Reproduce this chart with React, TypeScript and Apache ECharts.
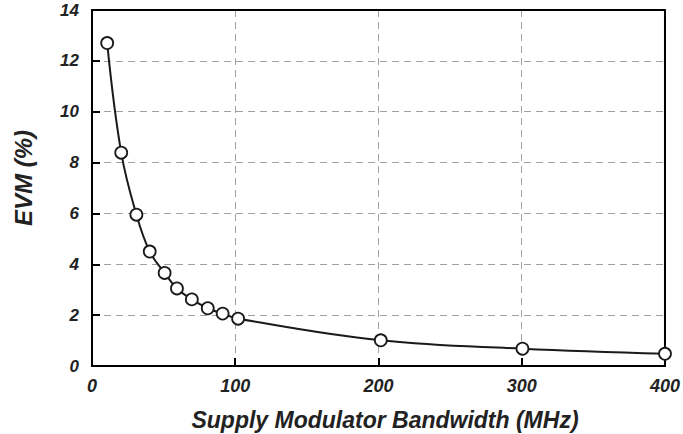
import React, { useEffect, useRef } from "react";
import * as echarts from "echarts";

const bandwidthMHz = [10.6, 20.4, 31, 40.3, 50.7, 59.3, 69.7, 80.8, 91.2, 102, 201.6, 300.5, 400];
const evmPercent = [12.7, 8.39, 5.95, 4.5, 3.66, 3.05, 2.62, 2.27, 2.06, 1.86, 1.01, 0.68, 0.48];
const xTitle = "Supply Modulator Bandwidth (MHz)";
const yTitle = "EVM (%)";

const FONT = "Liberation Sans, Arial, sans-serif";

export default function App() {
  const ref = useRef<HTMLDivElement>(null);
  useEffect(() => {
    if (!ref.current) return;
    const chart = echarts.init(ref.current, undefined, { renderer: "svg" });
    const data = bandwidthMHz.map((x, i) => [x, evmPercent[i]]);
    const labelStyle = {
      fontFamily: FONT,
      fontWeight: "bold" as const,
      fontStyle: "italic" as const,
      color: "#222",
      fontSize: 18,
    };
    const split = {
      show: true,
      showMinLine: false,
      showMaxLine: false,
      lineStyle: { color: "#a0a0a0", width: 1, type: [7, 5] },
    };
    chart.setOption({
      animation: false,
      backgroundColor: "#fff",
      grid: {
        left: 92,
        right: 15,
        top: 10,
        bottom: 68,
        show: true,
        borderColor: "#000",
        borderWidth: 2,
        backgroundColor: "transparent",
        z: 3,
      },
      graphic: [
        {
          type: "text",
          x: 385,
          y: 420,
          style: {
            text: xTitle,
            fill: "#222",
            font: `italic bold 23px ${FONT}`,
            align: "center",
            verticalAlign: "middle",
          },
        },
        {
          type: "text",
          x: 23,
          y: 178,
          rotation: Math.PI / 2,
          style: {
            text: yTitle,
            fill: "#222",
            font: `italic bold 24px ${FONT}`,
            align: "center",
            verticalAlign: "middle",
          },
        },
      ],
      xAxis: {
        type: "value",
        min: 0,
        max: 400,
        interval: 100,
        axisLine: { show: true, lineStyle: { color: "#000", width: 2 } },
        axisTick: { show: true, inside: true, length: 8, lineStyle: { color: "#000", width: 2 } },
        axisLabel: { ...labelStyle, margin: 11 },
        splitLine: split,
      },
      yAxis: {
        type: "value",
        min: 0,
        max: 14,
        interval: 2,
        axisLine: { show: true, lineStyle: { color: "#000", width: 2 } },
        axisTick: { show: true, inside: true, length: 8, lineStyle: { color: "#000", width: 2 } },
        axisLabel: { ...labelStyle, fontSize: 17, margin: 13 },
        splitLine: split,
      },
      series: [
        {
          type: "line",
          data,
          smooth: 0.4,
          symbol: "circle",
          symbolSize: 12,
          showAllSymbol: true,
          clip: false,
          lineStyle: { color: "#1a1a1a", width: 2 },
          itemStyle: { color: "#fff", borderColor: "#1a1a1a", borderWidth: 1.8 },
          z: 5,
        },
      ],
    });
    return () => chart.dispose();
  }, []);
  return <div ref={ref} style={{ width: 683, height: 434, position: "absolute", left: 0, top: 0 }} />;
}
